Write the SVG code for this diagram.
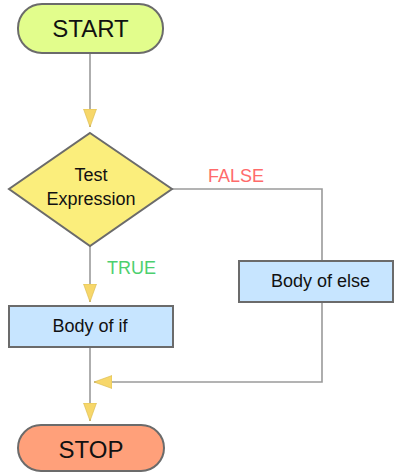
<svg xmlns="http://www.w3.org/2000/svg" width="395" height="473" viewBox="0 0 395 473">
  <style>
    .edge { fill: none; stroke: #9a9a9a; stroke-width: 1.6; }
    .shape { stroke: #6b6b6b; stroke-width: 2; }
    .label { font-family: "Liberation Sans", Arial, sans-serif; fill: #111; text-anchor: middle; }
    .cond { font-family: "Liberation Sans", Arial, sans-serif; font-size: 18px; }
  </style>
  <defs>
    <marker id="arrow" markerUnits="userSpaceOnUse" markerWidth="18" markerHeight="14" viewBox="0 0 18 14" refX="18" refY="7" orient="auto">
      <path d="M0,0.5 L18,7 L0,13.5 Z" fill="#f7d76a" stroke="#d9b94a" stroke-width="0.6"/>
    </marker>
  </defs>
  <rect width="395" height="473" fill="#ffffff"/>

  <g id="connectors">
    <line class="edge" x1="90" y1="53" x2="90" y2="127" marker-end="url(#arrow)"/>
    <polyline class="edge" points="172,189 322,189 322,261"/>
    <line class="edge" x1="90" y1="246" x2="90" y2="302" marker-end="url(#arrow)"/>
    <polyline class="edge" points="322,302 322,382 94,382" marker-end="url(#arrow)"/>
    <line class="edge" x1="90" y1="347" x2="90" y2="421" marker-end="url(#arrow)"/>
    <text class="cond" x="208" y="182" fill="#ff6b6b">FALSE</text>
    <text class="cond" x="107" y="274" fill="#4ccf6e">TRUE</text>
  </g>

  <g id="start">
    <rect class="shape" x="18" y="4" width="145" height="49" rx="24" fill="#e2fd8c"/>
    <text class="label" x="90.5" y="37" font-size="24">START</text>
  </g>

  <g id="test-expression">
    <polygon class="shape" points="90,133 172,189 90,246 9,189" fill="#fbee7c"/>
    <text class="label" x="91" y="181" font-size="18">Test</text>
    <text class="label" x="91" y="205" font-size="18">Expression</text>
  </g>

  <g id="body-if">
    <rect class="shape" x="9" y="306" width="164" height="41" fill="#c7e5ff"/>
    <text class="label" x="90" y="332" font-size="18">Body of if</text>
  </g>

  <g id="body-else">
    <rect class="shape" x="239" y="261" width="154" height="41" fill="#c7e5ff"/>
    <text class="label" x="320.5" y="287" font-size="18">Body of else</text>
  </g>

  <g id="stop">
    <rect class="shape" x="18" y="425" width="146" height="46" rx="23" fill="#ffa07a"/>
    <text class="label" x="91" y="458" font-size="24">STOP</text>
  </g>
</svg>
